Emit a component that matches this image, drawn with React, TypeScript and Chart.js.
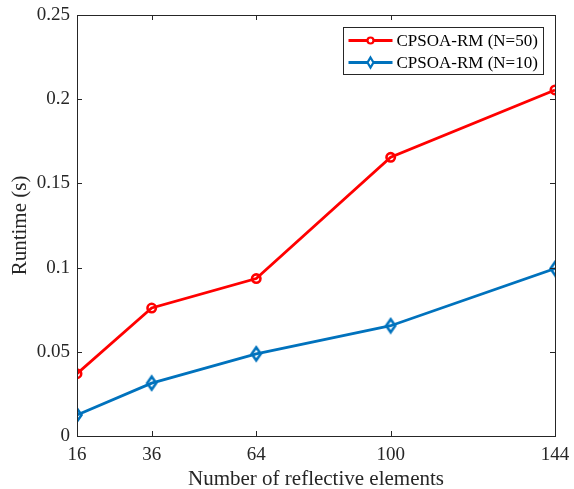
import React, { useEffect, useRef } from "react";
import { Chart, registerables } from "chart.js";

Chart.register(...registerables);

const elementCounts = [16, 36, 64, 100, 144];
const runtimeN50 = [0.037, 0.076, 0.0935, 0.1655, 0.2055];
const runtimeN10 = [0.0125, 0.0314, 0.0488, 0.0655, 0.0994];
const xTickValues = [16, 36, 64, 100, 144];
const yTickValues = [0, 0.05, 0.1, 0.15, 0.2, 0.25];
const yTickLabels = ["0", "0.05", "0.1", "0.15", "0.2", "0.25"];
const seriesLabels = ["CPSOA-RM (N=50)", "CPSOA-RM (N=10)"];

const SERIF = "'Liberation Serif', 'Times New Roman', serif";
const AXIS_COLOR = "#262626";
const RED = "#FF0000";
const BLUE = "#0072BD";

// Draws the box around the plot area with inward ticks on all four sides.
const framePlugin = {
  id: "frame",
  afterDatasetsDraw(chart: any) {
    const { ctx, chartArea: a, scales } = chart;
    const len = 5;
    ctx.save();
    ctx.strokeStyle = AXIS_COLOR;
    ctx.lineWidth = 1;
    ctx.beginPath();
    for (const v of xTickValues) {
      const x = Math.round(scales.x.getPixelForValue(v)) + 0.5;
      ctx.moveTo(x, a.bottom);
      ctx.lineTo(x, a.bottom - len);
      ctx.moveTo(x, a.top);
      ctx.lineTo(x, a.top + len);
    }
    for (const v of yTickValues) {
      const y = Math.round(scales.y.getPixelForValue(v)) + 0.5;
      ctx.moveTo(a.left, y);
      ctx.lineTo(a.left + len, y);
      ctx.moveTo(a.right, y);
      ctx.lineTo(a.right - len, y);
    }
    ctx.stroke();
    ctx.strokeRect(
      Math.round(a.left) + 0.5,
      Math.round(a.top) + 0.5,
      Math.round(a.right - a.left),
      Math.round(a.bottom - a.top)
    );
    ctx.restore();
  },
};

// Legend box in the upper right corner of the plot area.
const boxLegendPlugin = {
  id: "boxLegend",
  afterDraw(chart: any) {
    const { ctx, chartArea: a } = chart;
    const boxW = 200;
    const boxH = 47;
    const x0 = Math.round(a.right - 12 - boxW) + 0.5;
    const y0 = Math.round(a.top + 12) + 0.5;
    ctx.save();
    ctx.fillStyle = "#ffffff";
    ctx.fillRect(x0, y0, boxW, boxH);
    ctx.strokeStyle = AXIS_COLOR;
    ctx.lineWidth = 1;
    ctx.strokeRect(x0, y0, boxW, boxH);
    chart.data.datasets.forEach((ds: any, i: number) => {
      const cy = y0 + 13 + i * 22;
      const lx0 = x0 + 5;
      const lx1 = x0 + 49;
      ctx.strokeStyle = ds.borderColor;
      ctx.lineWidth = ds.borderWidth;
      ctx.beginPath();
      ctx.moveTo(lx0, cy);
      ctx.lineTo(lx1, cy);
      ctx.stroke();
      const cx = (lx0 + lx1) / 2;
      ctx.lineWidth = 2.2;
      ctx.beginPath();
      if (i === 0) {
        ctx.arc(cx, cy, 3, 0, Math.PI * 2);
      } else {
        ctx.moveTo(cx, cy - 5);
        ctx.lineTo(cx + 3, cy);
        ctx.lineTo(cx, cy + 5);
        ctx.lineTo(cx - 3, cy);
        ctx.closePath();
      }
      ctx.fillStyle = "#ffffff";
      ctx.fill();
      ctx.stroke();
      ctx.fillStyle = "#000000";
      ctx.font = `17px ${SERIF}`;
      ctx.textBaseline = "middle";
      ctx.textAlign = "left";
      ctx.fillText(ds.label, x0 + 53, cy + 1);
    });
    ctx.restore();
  },
};

// Thin diamond marker used for the N=10 series.
function makeDiamond(color: string) {
  const c = document.createElement("canvas");
  c.width = 14;
  c.height = 18;
  const g = c.getContext("2d")!;
  g.strokeStyle = color;
  g.lineWidth = 2.6;
  g.beginPath();
  g.moveTo(7, 2.5);
  g.lineTo(11.5, 9);
  g.lineTo(7, 15.5);
  g.lineTo(2.5, 9);
  g.closePath();
  g.stroke();
  return c;
}

const zeroScalePadding = (scale: any) => {
  scale.paddingLeft = 0;
  scale.paddingRight = 0;
  scale.paddingTop = 0;
  scale.paddingBottom = 0;
};

export default function App() {
  const canvasRef = useRef<HTMLCanvasElement | null>(null);

  useEffect(() => {
    document.body.style.margin = "0";
    const canvas = canvasRef.current;
    if (!canvas) return;
    const diamond = makeDiamond(BLUE);

    const chart = new Chart(canvas, {
      type: "line",
      data: {
        datasets: [
          {
            label: seriesLabels[0],
            data: elementCounts.map((x, i) => ({ x, y: runtimeN50[i] })),
            borderColor: RED,
            backgroundColor: "rgba(0,0,0,0)",
            borderWidth: 2.8,
            pointStyle: "circle",
            pointRadius: 4.2,
            pointBorderWidth: 2.6,
            pointBorderColor: RED,
            pointBackgroundColor: "rgba(0,0,0,0)",
            tension: 0,
          },
          {
            label: seriesLabels[1],
            data: elementCounts.map((x, i) => ({ x, y: runtimeN10[i] })),
            borderColor: BLUE,
            backgroundColor: "rgba(0,0,0,0)",
            borderWidth: 2.8,
            pointStyle: diamond as any,
            pointRadius: 6,
            pointBorderWidth: 2.6,
            pointBorderColor: BLUE,
            tension: 0,
          },
        ],
      },
      options: {
        animation: false,
        responsive: false,
        events: [],
        layout: { padding: { left: 0, right: 19, top: 15, bottom: 0 } },
        plugins: {
          legend: { display: false },
          tooltip: { enabled: false },
        },
        scales: {
          x: {
            type: "linear",
            min: 16,
            max: 144,
            afterBuildTicks: (scale: any) => {
              scale.ticks = xTickValues.map((v) => ({ value: v }));
            },
            afterFit: (scale: any) => {
              scale.height = 53;
              zeroScalePadding(scale);
            },
            grid: { display: false, drawTicks: false },
            border: { display: false },
            ticks: {
              color: "#262626",
              font: { family: SERIF, size: 19 },
              padding: 8,
              maxRotation: 0,
              autoSkip: false,
              callback: (v: any) => String(v),
            },
            title: {
              display: true,
              text: "Number of reflective elements",
              color: "#262626",
              font: { family: SERIF, size: 21, lineHeight: 0.86 },
              padding: { top: 0, bottom: 0 },
            },
          },
          y: {
            type: "linear",
            min: 0,
            max: 0.25,
            afterBuildTicks: (scale: any) => {
              scale.ticks = yTickValues.map((v) => ({ value: v }));
            },
            afterFit: (scale: any) => {
              scale.width = 77;
              zeroScalePadding(scale);
            },
            grid: { display: false, drawTicks: false },
            border: { display: false },
            ticks: {
              color: "#262626",
              font: { family: SERIF, size: 19 },
              padding: 7,
              autoSkip: false,
              callback: (v: any) => {
                const i = yTickValues.findIndex((t) => Math.abs(t - v) < 1e-9);
                return i >= 0 ? yTickLabels[i] : "";
              },
            },
            title: {
              display: true,
              text: "Runtime (s)",
              color: "#262626",
              font: { family: SERIF, size: 21 },
              padding: { top: 8, bottom: 0 },
            },
          },
        },
      },
      plugins: [framePlugin, boxLegendPlugin],
    });

    return () => chart.destroy();
  }, []);

  return (
    <div style={{ position: "absolute", left: 0, top: 0, width: 574, height: 489, background: "#fff" }}>
      <canvas ref={canvasRef} width={574} height={489} />
    </div>
  );
}
